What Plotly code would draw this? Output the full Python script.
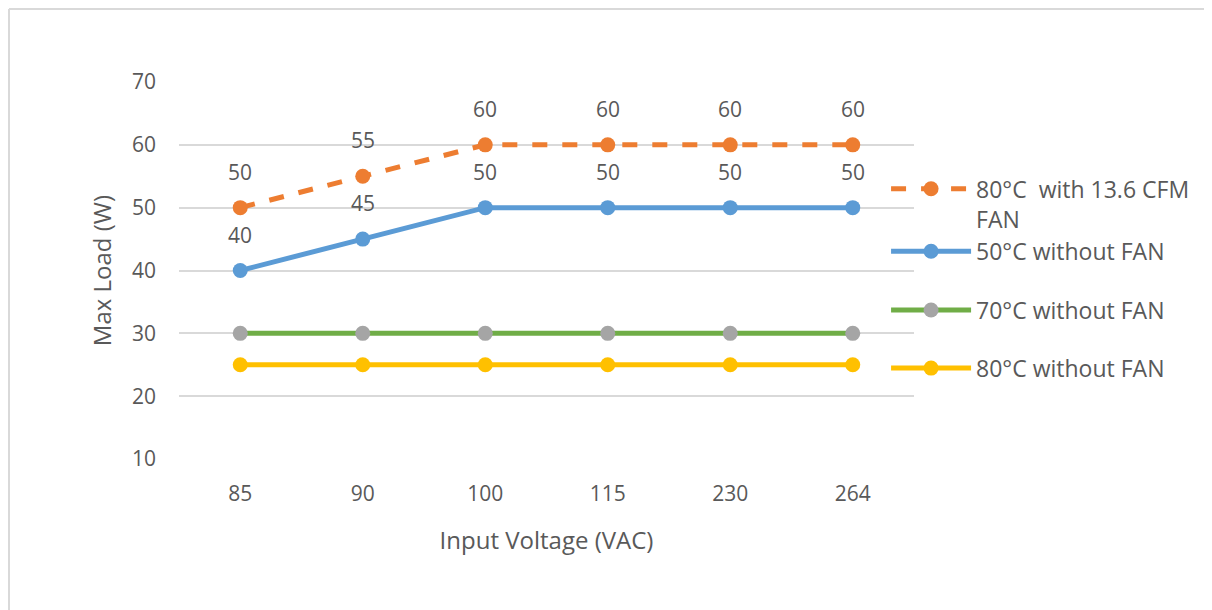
import plotly.graph_objects as go

voltages = ["85", "90", "100", "115", "230", "264"]
fan_80 = [50, 55, 60, 60, 60, 60]
nofan_50 = [40, 45, 50, 50, 50, 50]
nofan_70 = [30, 30, 30, 30, 30, 30]
nofan_80 = [25, 25, 25, 25, 25, 25]

series = [
    ("80°C  with 13.6 CFM<br>FAN", fan_80, "#ED7D31", "#ED7D31", "dash", True),
    ("50°C without FAN", nofan_50, "#5B9BD5", "#5B9BD5", "solid", True),
    ("70°C without FAN", nofan_70, "#70AD47", "#A5A5A5", "solid", False),
    ("80°C without FAN", nofan_80, "#FFC000", "#FFC000", "solid", False),
]
legend_ids = ["legend", "legend2", "legend3", "legend4"]
legend_y = [0.677, 0.551, 0.395, 0.241]

font = "Open Sans, Lato, sans-serif"
txt = "#595959"

fig = go.Figure()
for i, (name, vals, lc, mc, dash, labels) in enumerate(series):
    fig.add_trace(go.Scatter(
        x=voltages, y=vals, name=name, mode="lines+markers",
        line=dict(color=lc, width=5, dash=dash),
        marker=dict(color=mc, size=15),
        legend=legend_ids[i],
    ))
    if labels:
        # data labels above the points (x as category index)
        for k, v in enumerate(vals):
            fig.add_annotation(x=k, y=v, xref="x", yref="y", text=str(v), showarrow=False,
                               yshift=36, font=dict(family=font, size=21, color=txt))

# outer frame (top and left edges only)
fig.add_shape(type="line", xref="paper", yref="paper", x0=-0.2313, x1=1.5, y0=1.1936, y1=1.1936,
              line=dict(color="#D9D9D9", width=2))
fig.add_shape(type="line", xref="paper", yref="paper", x0=-0.2313, x1=-0.2313, y0=1.1936, y1=-0.5,
              line=dict(color="#D9D9D9", width=2))

legends = {}
for lid, ly in zip(legend_ids, legend_y):
    legends[lid] = dict(x=0.962, y=ly, xanchor="left", yanchor="middle", valign="top",
                        font=dict(family=font, size=23, color=txt), itemwidth=80,
                        bgcolor="rgba(0,0,0,0)")

fig.update_layout(
    width=1212, height=610,
    margin=dict(l=171, r=306, t=74, b=159),
    paper_bgcolor="white", plot_bgcolor="white",
    font=dict(family=font, size=21, color=txt),
    showlegend=True,
    xaxis=dict(type="category", range=[-0.5, 5.5], showgrid=False, showline=False,
               ticks="", ticklabelstandoff=20,
               title=dict(text="Input Voltage (VAC)", font=dict(size=24, color=txt), standoff=26)),
    yaxis=dict(range=[10, 70], dtick=10, showgrid=True, gridcolor="#D9D9D9", gridwidth=2,
               zeroline=False, showline=False, ticks="", ticklabelstandoff=22,
               title=dict(text="Max Load (W)", font=dict(size=24, color=txt), standoff=13)),
    **legends,
)

fig.write_html("out.html")
